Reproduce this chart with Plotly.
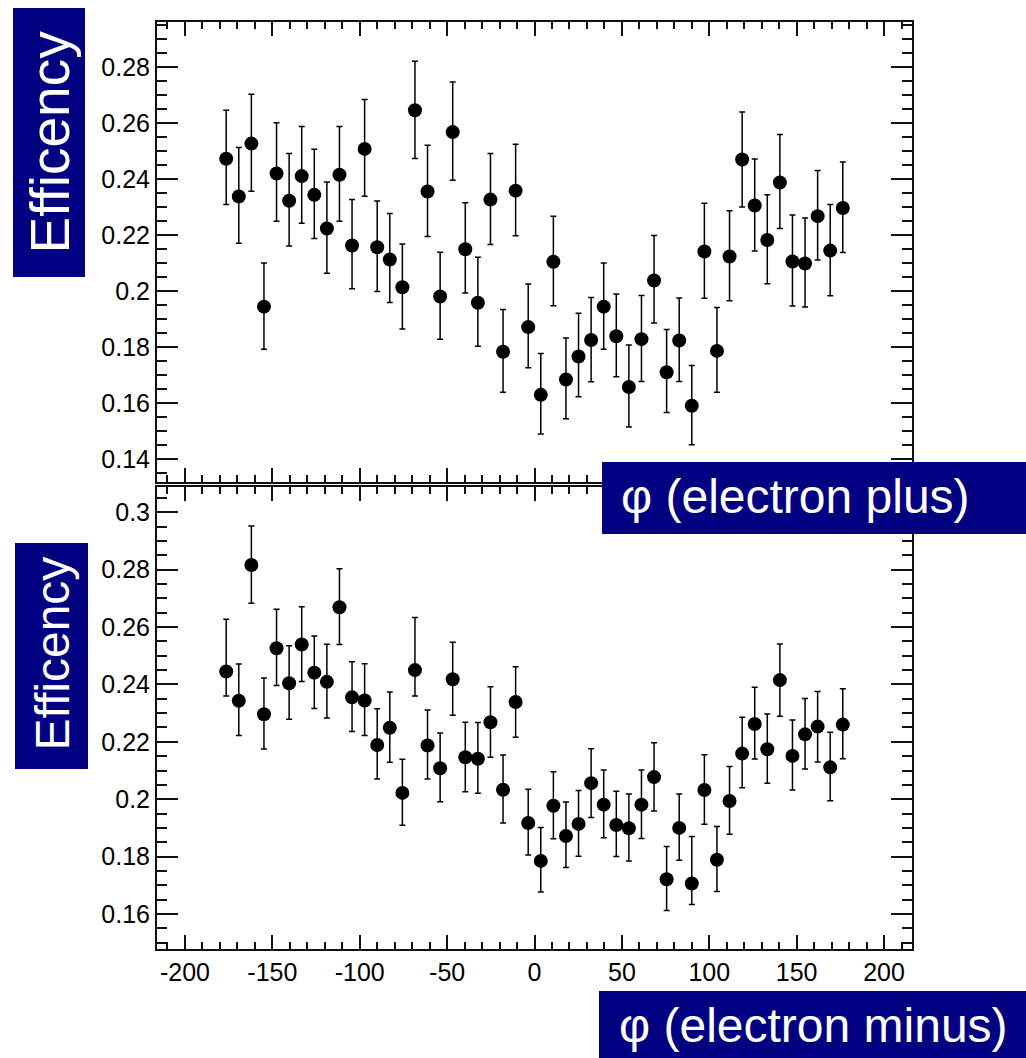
import plotly.graph_objects as go

# ---------------- data ----------------
phi = [-176.4, -169.2, -162.0, -154.8, -147.6, -140.4, -133.2, -126.0, -118.8, -111.6,
       -104.4, -97.2, -90.0, -82.8, -75.6, -68.4, -61.2, -54.0, -46.8, -39.6,
       -32.4, -25.2, -18.0, -10.8, -3.6, 3.6, 10.8, 18.0, 25.2, 32.4,
       39.6, 46.8, 54.0, 61.2, 68.4, 75.6, 82.8, 90.0, 97.2, 104.4,
       111.6, 118.8, 126.0, 133.2, 140.4, 147.6, 154.8, 162.0, 169.2, 176.4]

eff_plus = [0.2472, 0.2337, 0.2526, 0.1944, 0.2419, 0.2322, 0.2410, 0.2343, 0.2223, 0.2415,
            0.2162, 0.2507, 0.2156, 0.2112, 0.2013, 0.2645, 0.2355, 0.1980, 0.2567, 0.2149,
            0.1958, 0.2326, 0.1783, 0.2358, 0.1871, 0.1629, 0.2104, 0.1684, 0.1766, 0.1825,
            0.1944, 0.1838, 0.1657, 0.1828, 0.2037, 0.1710, 0.1823, 0.1590, 0.2141, 0.1786,
            0.2123, 0.2469, 0.2305, 0.2182, 0.2387, 0.2105, 0.2098, 0.2267, 0.2144, 0.2296]
plus_high = [0.2645, 0.2512, 0.2702, 0.2100, 0.2600, 0.2491, 0.2587, 0.2506, 0.2389, 0.2587,
             0.2326, 0.2683, 0.2321, 0.2276, 0.2168, 0.2820, 0.2520, 0.2138, 0.2746, 0.2315,
             0.2120, 0.2491, 0.1934, 0.2524, 0.2025, 0.1777, 0.2267, 0.1832, 0.1920, 0.1977,
             0.2100, 0.1989, 0.1807, 0.1984, 0.2198, 0.1862, 0.1975, 0.1734, 0.2313, 0.1941,
             0.2286, 0.2639, 0.2471, 0.2343, 0.2558, 0.2271, 0.2260, 0.2430, 0.2309, 0.2460]
plus_low = [0.2309, 0.2170, 0.2356, 0.1792, 0.2249, 0.2160, 0.2242, 0.2187, 0.2063, 0.2249,
            0.2008, 0.2338, 0.1998, 0.1959, 0.1864, 0.2473, 0.2194, 0.1828, 0.2395, 0.1993,
            0.1803, 0.2166, 0.1638, 0.2197, 0.1726, 0.1489, 0.1947, 0.1544, 0.1622, 0.1676,
            0.1792, 0.1694, 0.1514, 0.1677, 0.1886, 0.1566, 0.1677, 0.1451, 0.1974, 0.1638,
            0.1965, 0.2300, 0.2143, 0.2026, 0.2223, 0.1946, 0.1943, 0.2110, 0.1983, 0.2137]

eff_minus = [0.2445, 0.2343, 0.2816, 0.2296, 0.2526, 0.2404, 0.2539, 0.2441, 0.2409, 0.2669,
             0.2355, 0.2344, 0.2189, 0.2249, 0.2022, 0.2450, 0.2187, 0.2108, 0.2418, 0.2146,
             0.2141, 0.2268, 0.2033, 0.2339, 0.1917, 0.1785, 0.1977, 0.1872, 0.1914, 0.2056,
             0.1981, 0.1910, 0.1899, 0.1981, 0.2077, 0.1721, 0.1900, 0.1706, 0.2032, 0.1789,
             0.1994, 0.2159, 0.2262, 0.2174, 0.2415, 0.2151, 0.2226, 0.2253, 0.2111, 0.2260]
minus_high = [0.2627, 0.2471, 0.2952, 0.2422, 0.2662, 0.2535, 0.2671, 0.2569, 0.2540, 0.2803,
              0.2479, 0.2472, 0.2315, 0.2374, 0.2139, 0.2633, 0.2311, 0.2231, 0.2547, 0.2268,
              0.2267, 0.2392, 0.2154, 0.2462, 0.2035, 0.1901, 0.2096, 0.1990, 0.2030, 0.2176,
              0.2102, 0.2028, 0.2018, 0.2102, 0.2197, 0.1835, 0.2018, 0.1870, 0.2155, 0.1905,
              0.2114, 0.2286, 0.2390, 0.2297, 0.2541, 0.2276, 0.2351, 0.2375, 0.2233, 0.2385]
minus_low = [0.2360, 0.2222, 0.2683, 0.2175, 0.2396, 0.2279, 0.2410, 0.2316, 0.2283, 0.2539,
             0.2236, 0.2222, 0.2070, 0.2129, 0.1909, 0.2360, 0.2070, 0.1991, 0.2293, 0.2026,
             0.2021, 0.2146, 0.1917, 0.2216, 0.1806, 0.1677, 0.1862, 0.1762, 0.1801, 0.1936,
             0.1866, 0.1800, 0.1785, 0.1863, 0.1959, 0.1612, 0.1787, 0.1633, 0.1913, 0.1678,
             0.1878, 0.2040, 0.2140, 0.2056, 0.2289, 0.2032, 0.2105, 0.2130, 0.1995, 0.2141]

x_tickvals = [-200, -150, -100, -50, 0, 50, 100, 150, 200]
x_ticktext = ["-200", "-150", "-100", "-50", "0", "50", "100", "150", "200"]

y_title = "Efficency"
x_title_plus = "φ (electron plus)"
x_title_minus = "φ (electron minus)"

# ---------------- layout geometry (pixels) ----------------
W, H = 1026, 1058
ML, MR, MT, MB = 157, 114, 22, 109
PW = W - ML - MR
PH = H - MT - MB


def px(x):
    return (x - ML) / PW


def py(y):
    return (H - MB - y) / PH


NAVY = "rgb(0,0,128)"
FONT = "Liberation Sans, Arial, Helvetica, sans-serif"

fig = go.Figure()


def add_series(y, hi, lo, xa, ya):
    up = [h - v for h, v in zip(hi, y)]
    dn = [v - l for v, l in zip(y, lo)]
    fig.add_trace(go.Scatter(
        x=phi, y=y, mode="markers", xaxis=xa, yaxis=ya,
        marker=dict(color="black", size=14, symbol="circle"),
        error_y=dict(type="data", symmetric=False, array=up, arrayminus=dn,
                     color="black", thickness=1.5, width=3),
        showlegend=False, hoverinfo="skip"))


add_series(eff_plus, plus_high, plus_low, "x2", "y2")
add_series(eff_minus, minus_high, minus_low, "x", "y")

common_x = dict(range=[-216, 216], showgrid=False, zeroline=False,
                showline=True, linecolor="#111", linewidth=2, mirror="ticks",
                ticks="inside", ticklen=14, tickwidth=1.5, tickcolor="#111",
                tickvals=x_tickvals, ticktext=x_ticktext,
                minor=dict(ticks="inside", dtick=10, tick0=0, ticklen=7,
                           tickwidth=1.5, tickcolor="#111", showgrid=False),
                tickfont=dict(family=FONT, size=25, color="black"))

common_y = dict(showgrid=False, zeroline=False,
                showline=True, linecolor="#111", linewidth=2, mirror="ticks",
                ticks="inside", ticklen=21, tickwidth=1.5, tickcolor="#111",
                dtick=0.02, tick0=0,
                minor=dict(ticks="inside", dtick=0.005, tick0=0, ticklen=10,
                           tickwidth=1.5, tickcolor="#111", showgrid=False),
                tickfont=dict(family=FONT, size=25, color="black"))

fig.update_layout(
    width=W, height=H, autosize=False,
    margin=dict(l=ML, r=MR, t=MT, b=MB, pad=0),
    paper_bgcolor="white", plot_bgcolor="white",
    xaxis=dict(common_x, anchor="y", domain=[0, 1], showticklabels=True),
    yaxis=dict(common_y, anchor="x", domain=[0, py(487)], range=[0.1478, 0.3088]),
    xaxis2=dict(common_x, anchor="y2", domain=[0, 1], showticklabels=False, matches="x"),
    yaxis2=dict(common_y, anchor="x2", domain=[py(482), 1], range=[0.1318, 0.296]),
)

# title boxes
boxes = [
    (13, 8, 85, 277),
    (15, 543, 88, 769),
    (602, 462, 1030, 534),
    (599, 991, 1030, 1062),
]
for x0, y0, x1, y1 in boxes:
    fig.add_shape(type="rect", xref="paper", yref="paper",
                  x0=px(x0), x1=px(x1), y0=py(y1), y1=py(y0),
                  fillcolor=NAVY, line=dict(width=0), layer="above")

title_font = dict(family=FONT, size=48, color="white")
fig.add_annotation(text=y_title, xref="paper", yref="paper", x=px(49), y=py(142.5),
                   xanchor="center", yanchor="middle", textangle=-90,
                   showarrow=False, font=dict(family=FONT, size=55, color="white"))
fig.add_annotation(text=y_title, xref="paper", yref="paper", x=px(51.5), y=py(654),
                   xanchor="center", yanchor="middle", textangle=-90,
                   showarrow=False, font=title_font)
fig.add_annotation(text=x_title_plus, xref="paper", yref="paper", x=px(619), y=py(497),
                   xanchor="left", yanchor="middle", showarrow=False, font=title_font)
fig.add_annotation(text=x_title_minus, xref="paper", yref="paper", x=px(617), y=py(1025),
                   xanchor="left", yanchor="middle", showarrow=False, font=title_font)

fig.write_html("out.html")
